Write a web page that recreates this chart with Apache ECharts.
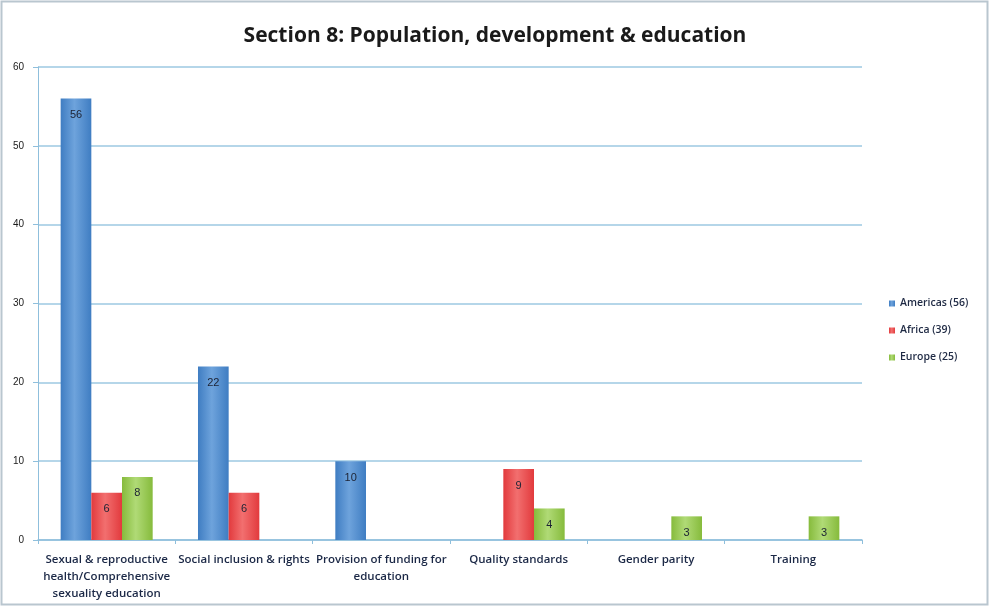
<!DOCTYPE html>
<html>
<head>
<meta charset="utf-8">
<script src="https://cdn.jsdelivr.net/npm/echarts@6/dist/echarts.min.js"></script>
<style>
  html, body { margin: 0; padding: 0; background: #ffffff; }
  #chart { width: 990px; height: 607px; }
</style>
</head>
<body>
<div id="chart"></div>
<script>
// Responses per theme, split by region
const categories = [
  'Sexual & reproductive\nhealth/Comprehensive\nsexuality education',
  'Social inclusion & rights',
  'Provision of funding for\neducation',
  'Quality standards',
  'Gender parity',
  'Training'
];
const americas = [56, 22, 10, null, null, null];
const africa = [6, 6, null, 9, null, null];
const europe = [8, null, null, 4, 3, 3];
const seriesNames = ['Americas (56)', 'Africa (39)', 'Europe (25)'];
const yTicks = { min: 0, max: 60, interval: 10 };

function barFill(edge, mid) {
  return new echarts.graphic.LinearGradient(0, 0, 1, 0, [
    { offset: 0, color: edge },
    { offset: 0.45, color: mid },
    { offset: 1, color: edge }
  ]);
}

const labelStyle = {
  show: true,
  position: 'insideTop',
  distance: 11,
  color: '#1c2233',
  fontFamily: 'Liberation Sans, Arial, sans-serif',
  fontSize: 11
};

const chart = echarts.init(document.getElementById('chart'), null, { renderer: 'canvas' });

chart.setOption({
  backgroundColor: '#ffffff',
  animation: false,
  title: {
    text: 'Section 8: Population, development & education',
    left: 'center',
    top: 21,
    textStyle: {
      fontFamily: 'Open Sans, Liberation Sans, sans-serif',
      fontSize: 21,
      fontWeight: 'bold',
      color: '#1a1a1a'
    }
  },
  graphic: [{
    type: 'rect',
    shape: { x: 1.5, y: 1.5, width: 986, height: 603 },
    style: { fill: 'none', stroke: '#b9c6cf', lineWidth: 2 },
    silent: true,
    z: -1
  }],
  legend: {
    orient: 'vertical',
    left: 884,
    top: 293,
    itemWidth: 6,
    itemHeight: 6,
    itemGap: 16,
    icon: 'rect',
    textStyle: {
      fontFamily: 'Open Sans, Liberation Sans, sans-serif',
      fontSize: 10.5,
      fontWeight: 600,
      color: '#1f2a44'
    },
    data: seriesNames
  },
  grid: { left: 38, right: 128, top: 67, bottom: 67 },
  xAxis: {
    type: 'category',
    data: categories,
    axisLine: { lineStyle: { color: '#8fbfdc', width: 1.5 } },
    axisTick: { show: true, alignWithLabel: false, length: 4, lineStyle: { color: '#8fbfdc' } },
    axisLabel: {
      interval: 0,
      color: '#1b2846',
      fontFamily: 'Open Sans, Liberation Sans, sans-serif',
      fontSize: 11.5,
      fontWeight: 600,
      lineHeight: 17,
      margin: 11
    }
  },
  yAxis: {
    type: 'value',
    min: yTicks.min,
    max: yTicks.max,
    interval: yTicks.interval,
    axisLine: { show: true, lineStyle: { color: '#8fbfdc', width: 1 } },
    axisTick: { show: true, length: 5, lineStyle: { color: '#8fbfdc' } },
    axisLabel: {
      color: '#1a1a1a',
      fontFamily: 'Liberation Sans, Arial, sans-serif',
      fontSize: 10,
      margin: 14
    },
    splitLine: { lineStyle: { color: '#9cc8e2', width: 1.5 } }
  },
  series: [
    {
      name: seriesNames[0],
      type: 'bar',
      data: americas,
      barGap: '0%',
      barCategoryGap: '33%',
      itemStyle: { color: barFill('#3f7dc2', '#6ea3dc') },
      label: labelStyle
    },
    {
      name: seriesNames[1],
      type: 'bar',
      data: africa,
      itemStyle: { color: barFill('#e23a3d', '#f26f6f') },
      label: labelStyle
    },
    {
      name: seriesNames[2],
      type: 'bar',
      data: europe,
      itemStyle: { color: barFill('#86bb3c', '#b0da76') },
      label: labelStyle
    }
  ]
});
</script>
</body>
</html>
